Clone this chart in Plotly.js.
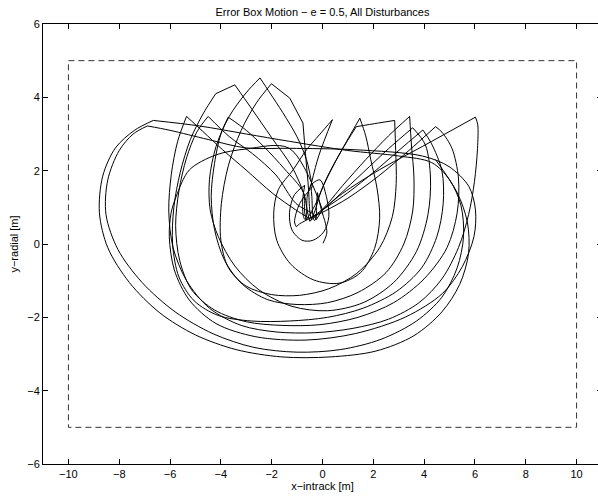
<!DOCTYPE html>
<html><head><meta charset="utf-8">
<script src="https://cdn.plot.ly/plotly-3.0.1.min.js"></script>
<style>html,body{margin:0;padding:0;overflow:hidden;background:#fff}</style>
</head><body>
<div id="chart" style="width:602px;height:499px"></div>
<script>
// ---- data ----
const xTickVals = [-10,-8,-6,-4,-2,0,2,4,6,8,10];
const yTickVals = [-6,-4,-2,0,2,4,6];

// error box limits
const boxX = [-10, 10, 10, -10, -10];
const boxY = [5, 5, -5, -5, 5];

// trajectory, orbit by orbit  [x-intrack, y-radial]
const orbit0 = [[0.02,0.02],[0.17,0.3],[0.12,0.55],[-0.05,0.95],[-0.2,1.4],[-0.24,1.0],[-0.25,0.7],[-0.32,0.64],[-0.38,0.8],[-0.42,1.3],[-0.46,1.62],[-0.6,1.3],[-0.63,0.8],[-0.68,0.66],[-0.75,0.75],[-0.78,1.2],[-0.7,1.6]];
const orbit1 = [[-1.1,1.35],[-1.3,0.85],[-1.2,0.38],[-0.8,0.1],[-0.38,0.1],[0.05,0.33],[0.25,0.75],[0.15,1.3],[-0.1,1.75],[-0.45,1.62]];
const orbit2 = [[-0.15,2.4],[0.39,3.39],[-0.12,2.98],[-0.63,2.57],[-1.16,2.02],[-1.74,1.48],[-1.92,0.84],[-1.8,0.1],[-1.25,-0.55],[-0.35,-0.98],[0.65,-1.07],[1.5,-0.78],[2.05,-0.12],[2.25,0.7],[2.15,1.5],[1.9,2.3],[1.7,2.95],[1.47,3.43],[0.95,2.8],[0.4,2.1],[-0.05,1.45],[-0.3,0.9],[-0.44,0.66],[-0.5,0.9],[-0.55,1.5]];
const orbit3 = [[-0.65,2.3],[-0.77,3.3],[-1.29,3.98],[-2.01,4.37],[-2.6,3.85],[-3.2,3.1],[-3.7,2.15],[-3.98,1.1],[-4.0,0.1],[-3.7,-0.65],[-3.0,-1.15],[-2.0,-1.38],[-0.9,-1.4],[0.25,-1.22],[1.35,-0.8],[2.25,-0.1],[2.75,0.75],[2.9,1.65],[2.88,2.55],[2.84,3.37],[2.2,3.3],[1.33,3.2],[0.75,2.55],[0.2,1.85],[-0.3,1.05],[-0.63,0.66],[-0.7,0.85],[-0.75,1.4]];
const orbit4 = [[-1.5,2.05],[-2.3,2.65],[-3.0,3.1],[-3.71,3.46],[-4.0,3.0],[-4.25,2.2],[-4.38,1.3],[-4.25,0.4],[-3.85,-0.45],[-3.15,-1.1],[-2.15,-1.52],[-1.0,-1.65],[0.2,-1.6],[1.4,-1.32],[2.5,-0.78],[3.2,0.0],[3.55,0.9],[3.6,1.8],[3.5,2.7],[3.43,3.48],[2.6,2.95],[1.7,2.3],[0.8,1.6],[0.0,0.95],[-0.5,0.7],[-0.9,0.55],[-1.03,0.47],[-1.1,0.6],[-0.9,1.1],[-0.4,1.56]];
const orbit5 = [[-0.63,2.3],[-1.0,2.92],[-1.56,3.58],[-2.07,4.12],[-2.46,4.53],[-3.01,4.12],[-3.67,3.48],[-4.19,2.66],[-4.45,1.75],[-4.42,0.93],[-4.1,0.2],[-3.45,-0.6],[-2.5,-1.25],[-1.2,-1.7],[0.2,-1.82],[1.6,-1.6],[2.8,-1.05],[3.7,-0.2],[4.15,0.8],[4.25,1.8],[4.05,2.7],[3.55,3.17],[2.6,2.6],[1.6,1.95],[0.6,1.3],[-0.2,0.8],[-0.5,0.62],[-0.6,0.9],[-0.7,1.3]];
const orbit6 = [[-1.2,2.1],[-2.0,2.9],[-2.8,3.7],[-3.45,4.34],[-4.2,4.1],[-4.7,3.55],[-5.2,2.85],[-5.6,1.95],[-5.85,1.0],[-5.9,0.0],[-5.65,-0.9],[-5.05,-1.55],[-4.1,-1.95],[-2.8,-2.1],[-1.3,-2.1],[0.2,-2.0],[1.6,-1.75],[2.9,-1.3],[3.9,-0.65],[4.5,0.2],[4.75,1.1],[4.7,2.0],[4.28,2.75],[3.95,3.11],[3.0,2.55],[2.0,1.95],[1.0,1.4],[0.0,0.93],[-0.25,0.66],[-0.35,0.8]];
const orbit7 = [[-1.05,1.11],[-1.83,1.88],[-2.75,2.46],[-3.67,2.93],[-4.5,3.48],[-4.95,3.05],[-5.35,2.35],[-5.65,1.45],[-5.78,0.5],[-5.62,-0.45],[-5.15,-1.25],[-4.25,-1.8],[-3.0,-2.12],[-1.6,-2.22],[-0.1,-2.2],[1.4,-2.0],[2.8,-1.6],[4.0,-0.95],[4.9,-0.1],[5.3,0.85],[5.35,1.8],[5.1,2.6],[4.7,3.05],[4.45,3.2],[3.4,2.55],[2.2,1.85],[1.0,1.25],[0.1,0.9],[-0.52,0.7]];
const orbit8 = [[-1.05,0.93],[-1.96,1.38],[-3.01,2.02],[-3.93,2.57],[-4.71,3.07],[-5.35,3.48],[-5.7,2.8],[-5.95,1.9],[-6.05,0.9],[-5.88,-0.1],[-5.35,-1.0],[-4.45,-1.75],[-3.2,-2.22],[-1.8,-2.4],[-0.3,-2.42],[1.2,-2.3],[2.6,-2.05],[3.8,-1.6],[4.7,-0.95],[5.35,-0.1],[5.75,0.8],[5.98,1.7],[6.1,2.6],[6.11,3.25],[6.02,3.46],[3.93,2.66],[2.23,2.02],[0.79,1.38],[0.0,0.93]];
const orbit9 = [[-1.31,2.61],[-3.01,2.59],[-4.19,2.43],[-5.24,2.02],[-5.76,1.29],[-5.96,0.84],[-6.03,0.2],[-5.83,-0.71],[-5.24,-1.53],[-4.19,-2.17],[-2.62,-2.53],[-0.65,-2.62],[1.31,-2.44],[3.27,-1.99],[4.72,-1.35],[5.5,-0.62],[5.96,0.2],[6.02,0.93],[5.76,1.57],[4.98,2.11],[3.93,2.40],[1.31,2.57],[-1.31,2.61],[-3.01,2.62],[-4.5,2.85],[-6.0,3.1],[-6.89,3.22]];
const orbit10 = [[-7.45,3.0],[-8.0,2.55],[-8.45,1.75],[-8.52,0.8],[-8.05,-0.15],[-7.1,-1.05],[-5.8,-1.85],[-4.3,-2.45],[-2.7,-2.82],[-1.0,-2.95],[0.7,-2.88],[2.3,-2.6],[3.7,-2.1],[4.7,-1.45],[5.3,-0.65],[5.55,0.2],[5.45,1.05],[5.0,1.75],[4.3,2.22],[3.0,2.4],[1.0,2.55],[-1.3,2.8],[-3.0,3.0],[-4.85,3.22],[-6.66,3.37]];
const orbit11 = [[-7.4,3.1],[-8.15,2.62],[-8.65,1.85],[-8.78,0.85],[-8.45,-0.1],[-7.6,-1.05],[-6.4,-1.88],[-5.0,-2.48],[-3.4,-2.88],[-1.6,-3.08],[0.3,-3.08],[2.1,-2.92],[3.6,-2.5],[4.7,-1.85],[5.4,-1.1],[5.75,-0.25],[5.7,0.6],[5.3,1.4],[4.45,2.3]];

// sharp periapsis corners of the path (where the curve kinks)
const corners = [[0.39,3.39],[1.47,3.43],[-0.77,3.3],[-1.29,3.98],[-2.01,4.37],[2.84,3.37],[1.33,3.2],
  [-3.71,3.46],[3.43,3.48],[-2.46,4.53],[3.55,3.17],[-3.45,4.34],[-4.2,4.1],[3.95,3.11],[-4.5,3.48],
  [4.45,3.2],[-5.35,3.48],[6.02,3.46],[-6.89,3.22],[-6.66,3.37],[-0.46,1.62],[-0.44,0.66],[-0.63,0.66],
  [-1.03,0.47],[-0.5,0.62],[-0.25,0.66],[-0.52,0.7],[0.0,0.93],[-0.45,1.62],[-0.4,1.56],[-0.7,1.6],[-0.2,1.4]];

const orbits = [orbit0,orbit1,orbit2,orbit3,orbit4,orbit5,orbit6,orbit7,orbit8,orbit9,orbit10,orbit11];

// ---- build traces ----
const pts = [];
orbits.forEach(o => o.forEach(p => pts.push(p)));
const cornerKeys = new Set(corners.map(c => c[0] + ',' + c[1]));

// split the path at its corners so that each smooth arc is a spline, corners stay sharp
const pieces = [];
let cur = [pts[0]];
for (let i = 1; i < pts.length; i++) {
  cur.push(pts[i]);
  if (cornerKeys.has(pts[i][0] + ',' + pts[i][1]) && i < pts.length - 1) {
    pieces.push(cur);
    cur = [pts[i]];
  }
}
pieces.push(cur);

const traces = [
  {type:'scatter', mode:'lines', x: boxX, y: boxY, hoverinfo:'skip',
   line:{color:'#333', width:1, dash:'6px,4px'}}
];
pieces.forEach(pc => traces.push({
  type:'scatter', mode:'lines', x: pc.map(p => p[0]), y: pc.map(p => p[1]), hoverinfo:'skip',
  line:{color:'#000', width:1, shape:'spline', smoothing:0.9}
}));

const FONT = '"Liberation Sans", Arial, Helvetica, sans-serif';
const axisCommon = {
  ticks:'inside', ticklen:5, tickwidth:1, tickcolor:'#000',
  showline:true, linecolor:'#000', linewidth:1, mirror:'ticks',
  showgrid:false, zeroline:false, tickfont:{family:FONT, size:11, color:'#000'}
};

const layout = {
  width: 602, height: 499,
  margin: {l:43, r:0, t:24, b:35, pad:0},
  paper_bgcolor:'#fff', plot_bgcolor:'#fff',
  showlegend:false,
  font:{family:FONT, size:11, color:'#000'},
  title:{text:'Error Box Motion \u2212 e = 0.5, All Disturbances', x:0.5, xref:'paper', xanchor:'center',
         y:1-12/499, yref:'container', yanchor:'middle', font:{family:FONT, size:11, color:'#000'}},
  xaxis: Object.assign({}, axisCommon, {range:[-11,11], tickvals:xTickVals,
          title:{text:'x\u2212intrack [m]', standoff:3, font:{family:FONT, size:11, color:'#000'}}}),
  yaxis: Object.assign({}, axisCommon, {range:[-6,6], tickvals:yTickVals,
          title:{text:'y\u2212radial [m]', standoff:6, font:{family:FONT, size:11, color:'#000'}}})
};

Plotly.newPlot('chart', traces, layout, {staticPlot:true, displayModeBar:false});
</script>
</body></html>
